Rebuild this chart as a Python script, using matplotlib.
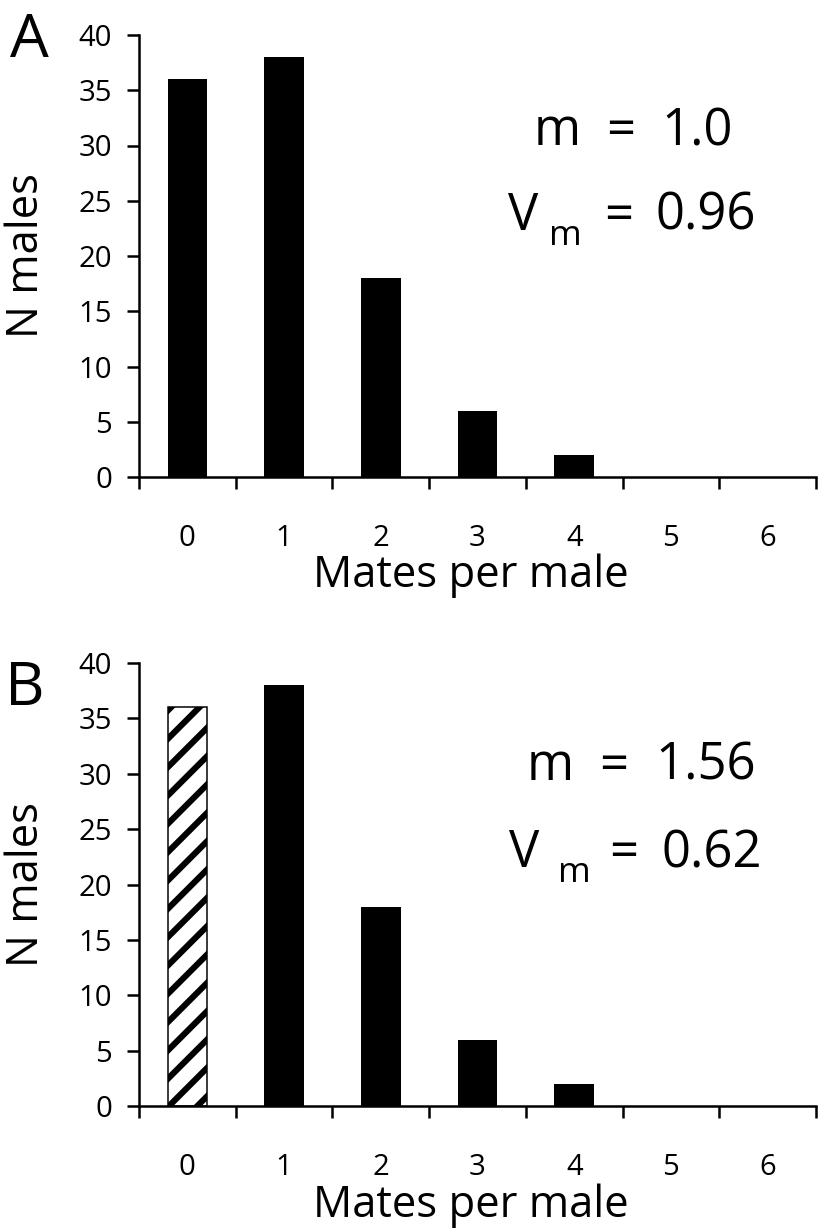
import numpy as np
import matplotlib
matplotlib.use("Agg")
import matplotlib.pyplot as plt

# ---- data ----
categories = [0, 1, 2, 3, 4, 5, 6]
males_A = [36, 38, 18, 6, 2, 0, 0]
males_B = [36, 38, 18, 6, 2, 0, 0]
hatched_B = [True, False, False, False, False, False, False]
yticks = [0, 5, 10, 15, 20, 25, 30, 35, 40]
panel_letters = ["A", "B"]
m_values = ["1.0", "1.56"]
vm_values = ["0.96", "0.62"]
xlabel_text = "Mates per male"
ylabel_text = "N males"

DPI = 170
W, H = 820, 1230
plt.rcParams['font.family'] = ['Open Sans', 'DejaVu Sans']
plt.rcParams['hatch.linewidth'] = 2.6
plt.rcParams['hatch.color'] = 'black'

fig = plt.figure(figsize=(W / DPI, H / DPI), dpi=DPI)


def fx(px):
    return px / W


def fy(py):
    return 1 - py / H


def pt(px):
    return px * 72 / DPI


def make_axes(top_px, bottom_px):
    left_px, right_px = 139, 816
    return fig.add_axes([fx(left_px), fy(bottom_px), fx(right_px) - fx(left_px),
                         (bottom_px - top_px) / H])


TICK_FS = 12.4
LABEL_FS = 18.5


def style_axes(ax, values, hatched):
    x = np.array(categories)
    for xi, v, h in zip(x, values, hatched):
        if h:
            ax.bar(xi, v, width=0.41, facecolor='white', edgecolor='black',
                   linewidth=pt(1.5), hatch='//', zorder=2)
        else:
            ax.bar(xi, v, width=0.41, color='black', linewidth=0, zorder=2)
    ax.set_xlim(-0.5, 6.5)
    ax.set_ylim(0, 40)
    ax.set_yticks(yticks)
    ax.set_yticklabels([str(t) for t in yticks])
    ax.set_xticks(np.arange(-0.5, 7.0, 1.0))
    ax.set_xticklabels([])
    ax.set_xticks(x, minor=True)
    ax.set_xticklabels([str(c) for c in categories], minor=True)
    for s in ['top', 'right']:
        ax.spines[s].set_visible(False)
    for s in ['left', 'bottom']:
        ax.spines[s].set_linewidth(pt(2.5))
    ax.tick_params(axis='both', which='major', direction='out', length=pt(12),
                   width=pt(2.5), labelsize=TICK_FS)
    ax.tick_params(axis='y', which='major', pad=pt(15))
    ax.tick_params(axis='x', which='minor', length=0, pad=pt(47), labelsize=TICK_FS)
    ax.set_xlabel(xlabel_text, fontsize=LABEL_FS, va='baseline')
    ax.set_ylabel(ylabel_text, fontsize=LABEL_FS, va='center')
    return ax


axA = style_axes(make_axes(35, 477), males_A, [False] * 7)
axB = style_axes(make_axes(663, 1106), males_B, hatched_B)

for ax, base_px, top_px in [(axA, 587, 35), (axB, 1216, 663)]:
    bbox_h = 442
    ax.xaxis.set_label_coords(0.49, -(base_px - (top_px + bbox_h)) / bbox_h)
    ax.yaxis.set_label_coords(-(139 - 27) / 677, 0.5)

# panel letters
fig.text(fx(10), fy(57), panel_letters[0], fontsize=26, ha='left', va='baseline')
fig.text(fx(5), fy(705), panel_letters[1], fontsize=26, ha='left', va='baseline')

# statistics annotations
ann = 21.5
sub = 15
# panel A
fig.text(fx(534), fy(145), "m", fontsize=ann, ha='left', va='baseline')
fig.text(fx(606), fy(145), "=", fontsize=ann, ha='left', va='baseline')
fig.text(fx(661), fy(145), m_values[0], fontsize=ann, ha='left', va='baseline')
fig.text(fx(508), fy(230), "V", fontsize=ann, ha='left', va='baseline')
fig.text(fx(549), fy(245), "m", fontsize=sub, ha='left', va='baseline')
fig.text(fx(604), fy(230), "=", fontsize=ann, ha='left', va='baseline')
fig.text(fx(656), fy(230), vm_values[0], fontsize=ann, ha='left', va='baseline')
# panel B
fig.text(fx(527), fy(780), "m", fontsize=ann, ha='left', va='baseline')
fig.text(fx(599), fy(780), "=", fontsize=ann, ha='left', va='baseline')
fig.text(fx(655), fy(780), m_values[1], fontsize=ann, ha='left', va='baseline')
fig.text(fx(509), fy(867), "V", fontsize=ann, ha='left', va='baseline')
fig.text(fx(558), fy(882), "m", fontsize=sub, ha='left', va='baseline')
fig.text(fx(609), fy(867), "=", fontsize=ann, ha='left', va='baseline')
fig.text(fx(662), fy(867), vm_values[1], fontsize=ann, ha='left', va='baseline')

fig.savefig("out.png", dpi=DPI)
